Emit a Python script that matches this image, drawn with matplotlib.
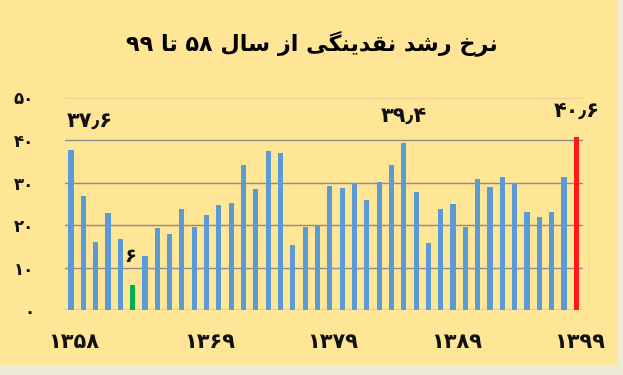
import numpy as np
import matplotlib
matplotlib.use("Agg")
import matplotlib.pyplot as plt
from matplotlib.patches import Rectangle

# money supply growth rate, 1358-1399
years = list(range(1358, 1400))
growth = [37.6, 26.8, 16.1, 22.9, 16.8, 6.0, 12.8, 19.2, 18.0, 23.8,
          19.5, 22.3, 24.7, 25.3, 34.1, 28.4, 37.4, 36.9, 15.3, 19.5,
          20.0, 29.2, 28.7, 30.0, 25.9, 30.2, 34.1, 39.4, 27.7, 15.9,
          23.8, 24.9, 19.5, 30.8, 28.9, 31.4, 30.0, 23.1, 22.0, 23.1,
          31.4, 40.6]
tick_years = [1358, 1369, 1379, 1389, 1399]
y_ticks = [0, 10, 20, 30, 40, 50]

# labelled bars: (year, text)
labels = [(1358, "۳۷٫۶"), (1363, "۶"), (1385, "۳۹٫۴"), (1399, "۴۰٫۶")]

fa = str.maketrans("0123456789", "۰۱۲۳۴۵۶۷۸۹")

# title in visual order with presentation forms (no shaping in matplotlib)
title = ("۹۹ " + "\uFE8E\uFE97" + " ۵۸ " + "\uFEDD\uFE8E\uFEB3" + " "
         + "\uFEAF\uFE8D" + " "
         + "\uFBFD\uFB95\uFEE8\uFBFE\uFEAA\uFED8\uFEE7" + " "
         + "\uFEAA\uFEB7\uFEAD" + " " + "\uFEA5\uFEAE\uFEE7")

bg = "#FFE596"
fig = plt.figure(figsize=(6.23, 3.75), dpi=100)
fig.patch.set_facecolor("#EEEAD8")
fig.patches.append(Rectangle((0, 0.027), 0.992, 0.973, transform=fig.transFigure,
                             facecolor=bg, edgecolor="none", zorder=-10))

ax = fig.add_axes([0.104, 0.173, 0.832, 0.567])
ax.set_facecolor("none")

colors = ["#5B9BD5"] * len(years)
colors[years.index(1363)] = "#00B050"
colors[years.index(1399)] = "#FF1A1A"
x = np.arange(len(years))
ax.bar(x, growth, width=0.42, color=colors, zorder=3)

for yr, txt in labels:
    i = years.index(yr)
    v = growth[i]
    if yr == 1358:
        ax.text(i - 0.35, 44.5, txt, ha="left", va="center", fontsize=15,
                fontweight="bold", color="#111")
    elif yr == 1363:
        ax.text(i - 0.2, v + 6.5, txt, ha="center", va="center", fontsize=14,
                fontweight="bold", color="#111")
    else:
        ax.text(i, v + 6, txt, ha="center", va="center", fontsize=15,
                fontweight="bold", color="#111")

ax.set_ylim(0, 50)
ax.set_xlim(-0.5, 41.55)
ax.set_yticks(y_ticks)
ax.set_yticklabels([str(t).translate(fa) for t in y_ticks], fontsize=12,
                   fontweight="bold", color="#111")
ax.yaxis.grid(True, color="#8C8C8C", linewidth=1.0, zorder=0)
ax.set_axisbelow(True)

ax.set_xticks([years.index(t) + 0.25 for t in tick_years])
ax.set_xticklabels([str(t).translate(fa) for t in tick_years], fontsize=15,
                   fontweight="bold", color="#111")
ax.tick_params(axis="y", length=0, pad=22)
ax.tick_params(axis="x", length=0, pad=16)
for s in ax.spines.values():
    s.set_visible(False)

fig.text(312 / 623, 1 - 43 / 375, title, ha="center", va="center",
         fontsize=16, fontweight="bold", color="#000")

fig.savefig("out.png", dpi=100, facecolor=fig.get_facecolor())
